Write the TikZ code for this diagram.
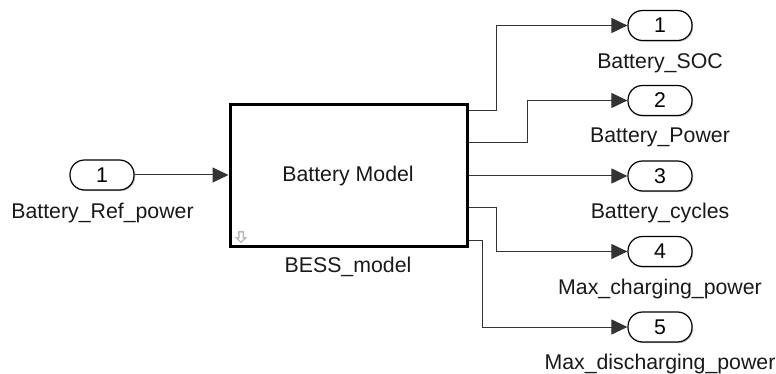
\documentclass[tikz,border=0pt]{standalone}
\usepackage{fontspec}
\setmainfont{Liberation Sans}
\usetikzlibrary{arrows.meta,shadows,calc}
\begin{document}
\begin{tikzpicture}[x=1pt,y=-1pt,
  port/.style={draw=black,line width=1.2pt,fill=white,rounded corners=14.5pt,minimum width=64pt,minimum height=30pt,inner sep=0pt,
    font=\fontsize{21.3}{25}\selectfont,
    drop shadow={shadow xshift=1.2pt,shadow yshift=-1.2pt,fill=gray!45,opacity=1}},
  blockbox/.style={draw=black,line width=3pt,fill=white,minimum width=237pt,minimum height=141pt,inner sep=0pt,
    font=\fontsize{21.3}{25}\selectfont,
    drop shadow={shadow xshift=2pt,shadow yshift=-2pt,fill=gray!40,opacity=1}},
  lbl/.style={font=\fontsize{21.3}{25}\selectfont,inner sep=0pt,text=black!90},
  sig/.style={draw=black!80,line width=1pt,-{Triangle[length=16pt,width=15pt]}},
  wire/.style={draw=black!80,line width=1pt}
]
\useasboundingbox (0,0) rectangle (776,374);
% input port
\node[port] (in1) at (102,175) {1};
\node[lbl,anchor=north] (in1l) at (102.5,203) {Battery\_Ref\_power};
% block
\node[blockbox] (blk) at (348.5,175.5) {};
\node[lbl] (blkt) at (348,176) {Battery Model};
\node[lbl,anchor=north] (blkl) at (348,257) {BESS\_model};
% small arrow icon
\fill[gray!55] (238,231) -- (244,231) -- (244,237) -- (247.5,237) -- (241,243) -- (234.5,237) -- (238,237) -- cycle;
\fill[white] (239.5,232.5) -- (242.5,232.5) -- (242.5,238.5) -- (244,238.5) -- (241,241.2) -- (238,238.5) -- (239.5,238.5) -- cycle;
% output ports
\node[port] (out1) at (660,25.5) {1};
\node[port] (out2) at (660,100.5) {2};
\node[port] (out3) at (660,176) {3};
\node[port] (out4) at (660,251.5) {4};
\node[port] (out5) at (660,327) {5};
\node[lbl,anchor=north] (out1l) at (660,53) {Battery\_SOC};
\node[lbl,anchor=north] (out2l) at (660,128) {Battery\_Power};
\node[lbl,anchor=north] (out3l) at (660,203) {Battery\_cycles};
\node[lbl,anchor=north] (out4l) at (660,278.5) {Max\_charging\_power};
\node[lbl,anchor=north] (out5l) at (660,353.5) {Max\_discharging\_power};
% block output points
\coordinate (p1) at (blk.east |- 0,111);
\coordinate (p2) at (blk.east |- 0,143);
\coordinate (p3) at (blk.east |- 0,176);
\coordinate (p4) at (blk.east |- 0,208);
\coordinate (p5) at (blk.east |- 0,240);
\coordinate (b1) at (496,111);
\coordinate (b2) at (527,143);
\coordinate (b4) at (496,208);
\coordinate (b5) at (482,240);
% connectors
\draw[sig] (in1.east) -- (in1.east -| blk.west);
\draw[sig] (p1) -- (b1) |- (out1.west);
\draw[sig] (p2) -- (b2) |- (out2.west);
\draw[sig] (p3) -- (out3.west);
\draw[sig] (p4) -- (b4) |- (out4.west);
\draw[sig] (p5) -- (b5) |- (out5.west);
\end{tikzpicture}
\end{document}
